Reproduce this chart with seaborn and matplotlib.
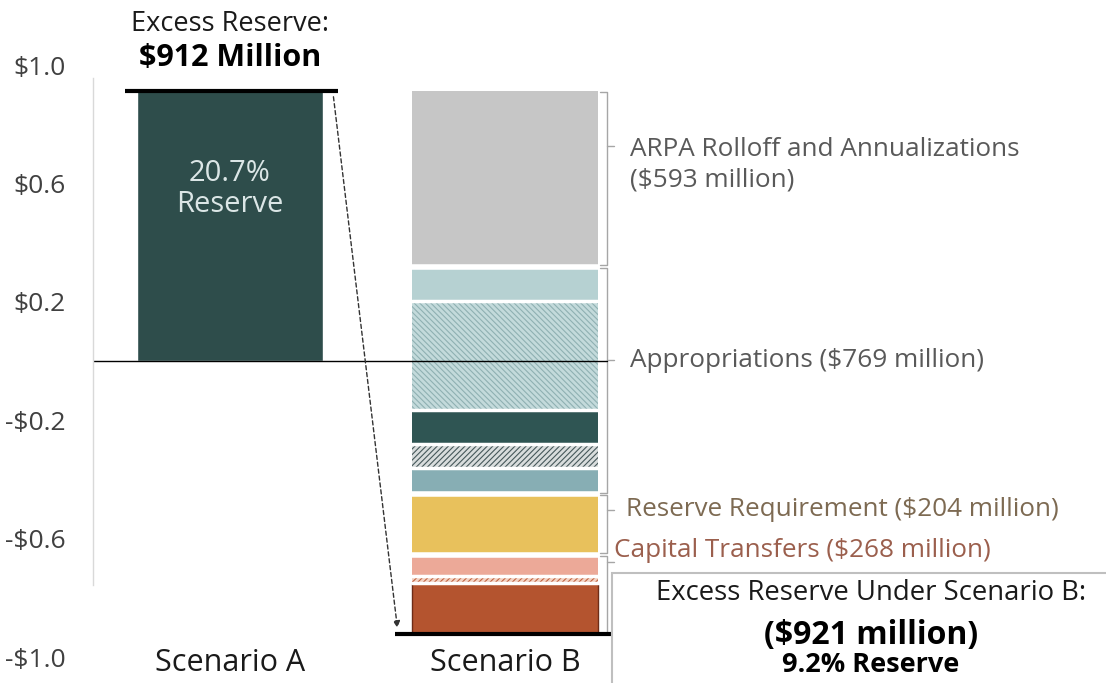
import numpy as np
import seaborn as sns
import matplotlib.pyplot as plt
from matplotlib.patches import Rectangle

# Excess reserve under each scenario, $ billions
scenarios = ["Scenario A", "Scenario B"]
excess_a = 0.912
excess_b = -0.921
reserve_a = "20.7%\nReserve"
reserve_b = "9.2% Reserve"

# Scenario B stack, top to bottom, $ millions
seg_values = [593, 115, 368, 118, 81, 87, 204, 71, 24, 268 - 71 - 24]
seg_colors = ["#c6c6c6", "#b6d1d2", "#c3dadb", "#2f5553", "#d9dddd",
              "#87aeb4", "#e8c15c", "#eca998", "#f3d2c2", "#b4542f"]
seg_hatch = [None, None, "\\\\\\\\\\\\", None, "//////", None, None, None, "//////", None]
seg_hatchcol = [None, None, "#8fb0b2", None, "#46585a", None, None, None, "#c0613f", None]
seg_group = [0, 1, 1, 1, 1, 1, 2, 3, 3, 3]

group_labels = ["ARPA Rolloff and Annualizations\n($593 million)",
                "Appropriations ($769 million)",
                "Reserve Requirement ($204 million)",
                "Capital Transfers ($268 million)"]
group_label_y = [0.662, 0.003, -0.503, -0.639]
group_label_x = [1.455, 1.455, 1.44, 1.395]
group_text_col = ["#595959", "#595959", "#7d6a52", "#9b5f4d"]

yticks = [1.0, 0.6, 0.2, -0.2, -0.6, -1.0]

sns.set_theme(style="white")
plt.rcParams['font.family'] = ['Open Sans', 'DejaVu Sans']
plt.rcParams['hatch.linewidth'] = 0.8

fig = plt.figure(figsize=(11.06, 6.83), dpi=100)
ax = fig.add_axes([93 / 1106, 0, 1 - 93 / 1106, 1])

# Scenario A
sns.barplot(x=[0], y=[excess_a], color="#2e4d4b", width=0.676, ax=ax,
            saturation=1, native_scale=True)

# Scenario B stacked
tops = excess_a - np.concatenate([[0], np.cumsum(seg_values)[:-1]]) / 1000
bottoms = tops - np.array(seg_values) / 1000
for i in range(len(seg_values)):
    if seg_hatch[i]:
        ax.bar(1, seg_values[i] / 1000, bottom=bottoms[i], width=0.676,
               color=seg_colors[i], edgecolor=seg_hatchcol[i], hatch=seg_hatch[i], linewidth=0)
    elif i == len(seg_values) - 1:
        ax.bar(1, seg_values[i] / 1000, bottom=bottoms[i], width=0.676,
               color=seg_colors[i], edgecolor="#6e2c17", linewidth=1)
    else:
        ax.bar(1, seg_values[i] / 1000, bottom=bottoms[i], width=0.676,
               color=seg_colors[i], linewidth=0)
# white separators between segments
for i in range(1, len(seg_values)):
    lw = 4 if seg_group[i] != seg_group[i - 1] else 2.5
    ax.plot([1 - 0.34, 1 + 0.34], [tops[i], tops[i]], color="white", lw=lw)

# group brackets and labels
for g in range(len(group_labels)):
    idx = [i for i in range(len(seg_group)) if seg_group[i] == g]
    gt = tops[idx[0]] - 0.004
    gb = bottoms[idx[-1]] + 0.004
    tip = min(max(group_label_y[g], gb + 0.02), gt - 0.02)
    if g == 0:
        tip = 0.725
    ax.plot([1.345, 1.372, 1.372, 1.345], [gt, gt, gb, gb], color="#a6a6a6", lw=1)
    ax.plot([1.372, 1.395], [tip, tip], color="#a6a6a6", lw=1)
    ax.text(group_label_x[g], group_label_y[g], group_labels[g], fontsize=18.8,
            color=group_text_col[g], va="center", ha="left", linespacing=1.3)

# zero line, totals and arrow
ax.plot([-0.498, 1.372], [0, 0], color="black", lw=1)
ax.plot([-0.382, 0.393], [excess_a, excess_a], color="black", lw=3, solid_capstyle="butt")
ax.plot([0.6, 1.389], [excess_b, excess_b], color="black", lw=3, solid_capstyle="butt")
ax.annotate("", xy=(0.61, excess_b + 0.01), xytext=(0.375, excess_a - 0.01),
            arrowprops=dict(arrowstyle="-|>", color="#333333", lw=1, ls=(0, (3, 2)),
                            mutation_scale=10))

ax.text(0, 1.138, "Excess Reserve:", ha="center", va="center", fontsize=19.5, color="#1a1a1a")
ax.text(0, 1.024, "$912 Million", ha="center", va="center", fontsize=22,
        fontweight="bold", color="black")
ax.text(0, 0.58, reserve_a, ha="center", va="center", fontsize=21, color="#dbe6e6",
        linespacing=1.1)

for i, s in enumerate(scenarios):
    ax.text(i, -1.02, s, ha="center", va="center", fontsize=22, color="#1a1a1a")

# result box
ax.add_patch(Rectangle((1.39, -1.3), 3, 0.584, facecolor="white", edgecolor="#bfbfbf",
                       lw=1.5, clip_on=False, zorder=3))
ax.text(2.33, -0.785, "Excess Reserve Under Scenario B:", ha="center", va="center",
        fontsize=19.8, color="#1a1a1a", zorder=4)
ax.text(2.33, -0.929, "($921 million)", ha="center", va="center", fontsize=23,
        fontweight="bold", color="black", zorder=4)
ax.text(2.33, -1.027, reserve_b, ha="center", va="center", fontsize=19.5,
        fontweight="bold", color="black", zorder=4)

ax.set_xlim(-0.498, 3.185)
ax.set_ylim(-1.0878, 1.2196)
ax.set_yticks(yticks)
ax.set_yticklabels([("-$%.1f" % abs(v)) if v < 0 else ("$%.1f" % v) for v in yticks],
                   fontsize=19, color="#404040")
ax.tick_params(axis="y", length=0, pad=20)
ax.set_xticks([])
ax.set_xlabel("")
for s in ["top", "right", "bottom"]:
    ax.spines[s].set_visible(False)
ax.spines["left"].set_bounds(-0.757, 0.956)
ax.spines["left"].set_color("#d9d9d9")
ax.spines["left"].set_linewidth(1)

fig.savefig("out.png", dpi=100)
